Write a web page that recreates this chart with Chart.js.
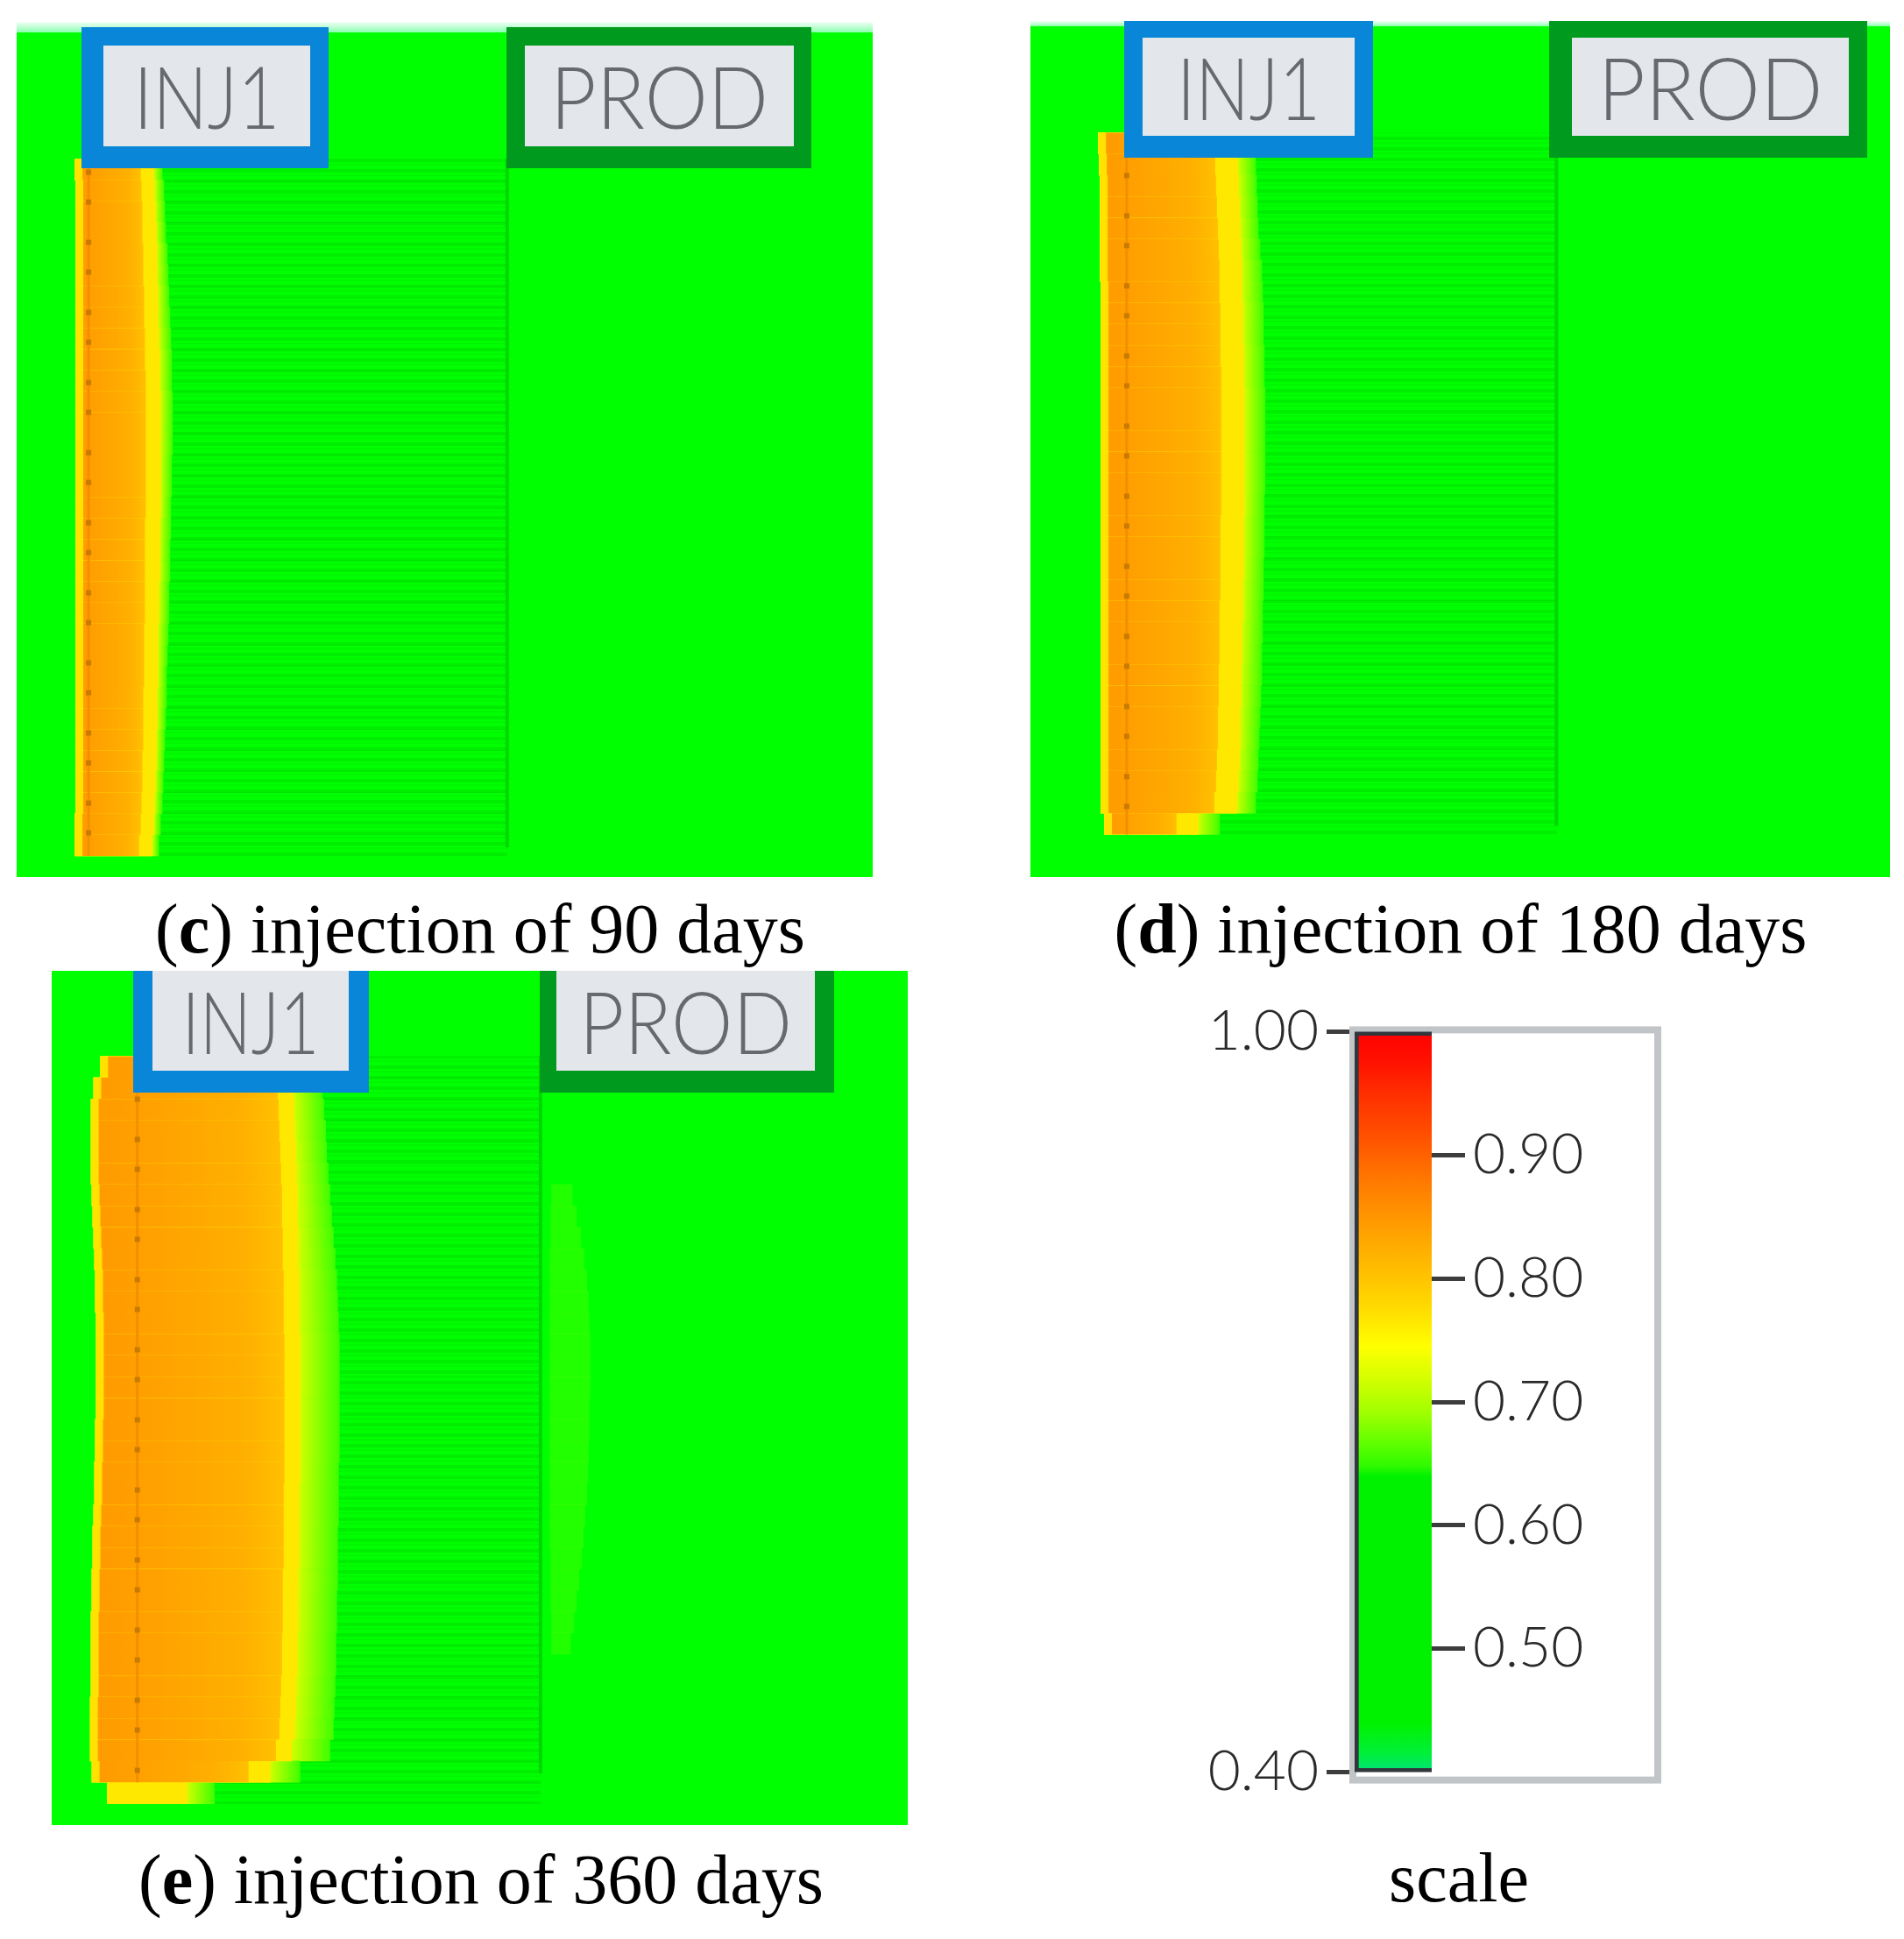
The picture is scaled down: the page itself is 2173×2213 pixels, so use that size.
<!DOCTYPE html>
<html>
<head>
<meta charset="utf-8">
<script src="https://cdn.jsdelivr.net/npm/chart.js@4.4.1/dist/chart.umd.min.js"></script>
<style>
  html, body { margin: 0; padding: 0; background: #fff; }
  body { width: 2173px; height: 2213px; position: relative; overflow: hidden; }
  canvas { position: absolute; }
  .cap {
    position: absolute; width: 1000px; text-align: center; white-space: nowrap;
    font-family: "Liberation Serif", "Times New Roman", serif; font-size: 80px; line-height: 80px; color: #000;
  }
</style>
</head>
<body>
<canvas id="pc" width="977" height="976" style="left:19px;top:25px"></canvas>
<canvas id="pd" width="981" height="977" style="left:1176px;top:24px"></canvas>
<canvas id="pe" width="977" height="975" style="left:59px;top:1108px"></canvas>
<canvas id="scale" width="540" height="940" style="left:1360px;top:1130px"></canvas>

<div class="cap" style="left:48px;top:1020px">(<b>c</b>) injection of 90 days</div>
<div class="cap" style="left:1167px;top:1020px">(<b>d</b>) injection of 180 days</div>
<div class="cap" style="left:49px;top:2105px">(<b>e</b>) injection of 360 days</div>
<div class="cap" style="left:1165px;top:2103px">scale</div>

<script>
// grid layers, top to bottom
const layerCount = 40;
const layers = Array.from({ length: layerCount }, (_, k) => k + 1);

// well positions, % of section width  (c, d, e)
const injX = [8.4, 11.2, 10.0];
const prodX = [57.3, 61.2, 57.1];

// (c) 90 days - plume from layer index 6
const cStart = 6;
const cLeft = [6.8,6.9,6.9,6.9,6.9,6.9,6.9,6.9,6.9, 6.9,6.9,6.9,6.9,6.9,6.9,6.9,6.9,6.9,6.9,6.9,6.9,6.9,6.9, 6.9,6.9,6.9,6.9,6.9,6.9,6.9,6.9, 6.8,6.8];
const cCore = [14.5,14.6,14.7,14.7,14.8,14.8,14.9,14.9,15.0, 15.0,15.1,15.1,15.1,15.1,15.1,15.1,15.1,15.0,15.0,15.0,15.0,15.0,14.9, 14.9,14.9,14.8,14.8,14.8,14.7,14.7,14.6, 14.5,14.3];
const cYellow = [16.0,16.1,16.2,16.3,16.4,16.4,16.5,16.5,16.6, 16.7,16.7,16.8,16.8,16.8,16.8,16.8,16.8,16.7,16.7,16.7,16.6,16.6,16.5, 16.5,16.5,16.4,16.4,16.3,16.3,16.2,16.1, 16.0,15.8];
const cFringe = [17.0,17.2,17.3,17.4,17.6,17.7,17.8,17.9,18.0, 18.1,18.1,18.2,18.2,18.2,18.1,18.1,18.0,18.0,17.9,17.9,17.8,17.8,17.7, 17.6,17.5,17.5,17.4,17.3,17.2,17.1,17.0, 16.8,16.6];

// (d) 180 days - plume from layer index 5
const dStart = 5;
const dLeft = [7.9,8.0, 8.1,8.1,8.1,8.1,8.1, 8.2,8.2,8.2,8.2,8.2,8.2,8.2,8.2,8.2,8.2,8.2,8.2,8.2,8.2,8.2,8.2,8.2,8.2, 8.2,8.2,8.2,8.2,8.2,8.2,8.2, 8.6];
const dCore = [21.4,21.5,21.6,21.7,21.8,21.9,22.0, 22.0,22.1,22.1,22.1,22.2,22.2,22.2,22.2,22.2,22.2,22.2,22.1,22.1,22.1,22.1,22.0,22.0,22.0, 21.9,21.9,21.8,21.8,21.7,21.6,21.4, 17.0];
const dYellow = [24.0,24.1,24.2,24.3,24.4,24.5,24.6, 24.6,24.7,24.7,24.8,24.8,24.9,24.9,24.9,24.9,24.9,24.9,24.8,24.8,24.8,24.7,24.7,24.6,24.6, 24.5,24.5,24.4,24.4,24.3,24.2,24.0, 19.5];
const dFringe = [26.0,26.2,26.3,26.4,26.5,26.7,26.9, 27.0,27.1,27.1,27.2,27.2,27.3,27.3,27.3,27.3,27.3,27.2,27.2,27.2,27.1,27.1,27.0,27.0,26.9, 26.9,26.8,26.7,26.6,26.5,26.4,26.2, 22.0];

// (e) 360 days - plume from layer index 4
const eStart = 4;
const eLeft = [5.7, 4.9, 4.6,4.6,4.6,4.6,4.7,4.8,4.9,5.0,5.1,5.1,5.2,5.2,5.2,5.2,5.2,5.1,5.1,5.0,5.0,4.9,4.8,4.8,4.7,4.7,4.6,4.6,4.6,4.6,4.5,4.5,4.5, 4.7, 6.5];
const eCore = [26.2, 26.4,26.5,26.6,26.7,26.8,26.9,26.9,27.0, 27.0,27.1,27.1,27.1,27.2,27.2,27.2,27.2,27.2,27.2,27.2,27.1,27.1,27.1,27.1,27.0,27.0,27.0,26.9,26.9,26.8,26.7,26.6, 26.2, 23.0, null];
const eYellow = [28.0, 28.2,28.3,28.4,28.5,28.6,28.7,28.7,28.8, 28.8,28.9,28.9,28.9,29.0,29.0,29.0,29.0,29.0,29.0,29.0,28.9,28.9,28.9,28.9,28.8,28.8,28.8,28.7,28.7,28.6,28.5,28.4, 28.0, 25.5, 15.8];
const eFringe = [31.3, 31.6,31.8,32.0,32.1,32.3,32.5,32.7,32.9, 33.1,33.3,33.4,33.5,33.6,33.6,33.6,33.6,33.6,33.6,33.5,33.5,33.5,33.4,33.4,33.4,33.3,33.3,33.2,33.2,33.1,33.0,32.9, 32.5, 29.0, 19.0];
// faint front reaching the producer in (e)
const eBreakStart = 10;
const eBreakLeft = [58.4,58.3,58.3,58.2,58.2,58.2,58.2,58.2,58.2,58.2,58.2,58.2,58.2,58.2,58.2,58.2,58.2,58.3,58.3,58.3,58.4,58.4];
const eBreakRight = [60.8,61.3,61.8,62.2,62.5,62.7,62.8,62.9,62.9,62.9,62.8,62.8,62.7,62.6,62.5,62.3,62.1,61.9,61.6,61.3,61.0,60.6];

// colour scale
const scaleRange = [0.4, 1.0];
const scaleTicksLeft = [0.4, 1.0];
const scaleTicksRight = [0.5, 0.6, 0.7, 0.8, 0.9];
const scaleStops = [
  [0.40, '#00e27a'], [0.415, '#00f03a'], [0.44, '#00f200'], [0.640, '#00f200'], [0.648, '#30fa00'],
  [0.665, '#5cff00'], [0.69, '#9dff00'], [0.72, '#d6ff00'], [0.745, '#ffff00'], [0.775, '#ffdc00'],
  [0.81, '#ffbb00'], [0.845, '#ff9b00'], [0.88, '#ff7800'], [0.91, '#ff5600'], [0.945, '#ff3300'],
  [0.975, '#ff1200'], [1.0, '#ff0000']
];

const labelFont = 'Lato, "Open Sans", "DejaVu Sans", sans-serif';

function rows(start, a, b) {
  const out = new Array(layerCount).fill(null);
  a.forEach((v, i) => {
    if (v != null && b[i] != null) out[start + i] = [v, b[i]];
  });
  return out;
}

function stripePattern() {
  const c = document.createElement('canvas');
  c.width = 4; c.height = 12;
  const g = c.getContext('2d');
  g.fillStyle = 'rgba(0,150,0,0.16)';
  g.fillRect(0, 0, 4, 4);
  g.fillStyle = 'rgba(0,150,0,0.08)';
  g.fillRect(0, 6, 4, 2);
  return g.createPattern(c, 'repeat');
}
const stripes = stripePattern();

function drawBox(ctx, b) {
  const [ox0, oy0, ox1, oy1] = b.outer;
  const [ix0, iy0, ix1, iy1] = b.inner;
  ctx.fillStyle = b.color;
  ctx.fillRect(ox0, oy0, ox1 - ox0, oy1 - oy0);
  ctx.fillStyle = '#e3e6ea';
  ctx.fillRect(ix0, iy0, ix1 - ix0, iy1 - iy0);
  ctx.save();
  ctx.font = '300 98px ' + labelFont;
  ctx.textAlign = 'center';
  ctx.textBaseline = 'alphabetic';
  const w = ctx.measureText(b.label).width;
  ctx.translate((ix0 + ix1) / 2, b.capY + 35);
  ctx.scale(b.textW / w, 1);
  ctx.fillStyle = '#66696e';
  ctx.fillText(b.label, 0, 0);
  ctx.restore();
}

function makePanel(id, p) {
  const core = rows(p.start, p.L, p.R);
  const yellow = rows(p.start, p.L, p.Y);
  const fringe = rows(p.start, p.L, p.F);
  const swept = rows(p.start, p.F, p.F.map(() => p.prod));

  const datasets = [
    {
      label: 'core', data: core,
      backgroundColor: (c) => {
        const ch = c.chart;
        if (!c.raw || !ch.chartArea) return '#ffab00';
        const xs = ch.scales.x;
        const g = ch.ctx.createLinearGradient(xs.getPixelForValue(c.raw[0]), 0, xs.getPixelForValue(c.raw[1]), 0);
        g.addColorStop(0, '#ff9a00');
        g.addColorStop(0.35, '#ffa200');
        g.addColorStop(0.8, '#ffb000');
        g.addColorStop(1, '#ffc000');
        return g;
      },
      borderColor: '#ffe200',
      borderWidth: { left: 9, right: 0, top: 0, bottom: 0 },
      borderSkipped: false
    },
    { label: 'yellow', data: yellow, backgroundColor: '#ffe800' },
    {
      label: 'fringe', data: fringe,
      backgroundColor: (c) => {
        const ch = c.chart;
        if (!c.raw || !ch.chartArea) return '#a8ff00';
        const xs = ch.scales.x;
        const x0 = xs.getPixelForValue(c.raw[0]), x1 = xs.getPixelForValue(c.raw[1]);
        const yv = p.Y[c.dataIndex - p.start];
        let t = (xs.getPixelForValue(yv) - x0) / (x1 - x0);
        t = Math.max(0, Math.min(0.99, t));
        const g = ch.ctx.createLinearGradient(x0, 0, x1, 0);
        g.addColorStop(0, '#e0ff00');
        g.addColorStop(t, '#d0ff00');
        g.addColorStop(1, '#40ff00');
        return g;
      }
    },
    { label: 'swept', data: swept, backgroundColor: stripes }
  ];
  if (p.breakL) {
    datasets.push({ label: 'front', data: rows(p.breakStart, p.breakL, p.breakR), backgroundColor: 'rgba(110,255,0,0.3)' });
  }

  const plugin = {
    id: 'field' + id,
    beforeDatasetsDraw(chart) {
      const { ctx, chartArea: a } = chart;
      ctx.save();
      if (a.top > 0) {
        const g = ctx.createLinearGradient(0, 0, 0, a.top);
        g.addColorStop(0, '#f2fff6');
        g.addColorStop(1, '#8cffb0');
        ctx.fillStyle = g;
        ctx.fillRect(a.left, 0, a.width, a.top);
      }
      ctx.fillStyle = '#00ff00';
      ctx.fillRect(a.left, a.top, a.width, a.height);
      ctx.restore();
    },
    afterDatasetsDraw(chart) {
      const { ctx } = chart;
      const xs = chart.scales.x, ys = chart.scales.y;
      const half = (chart.chartArea.height / layerCount) / 2;
      const last = p.start + p.R.filter(v => v != null).length - 1;
      const yTop = ys.getPixelForValue(p.start) - half;
      const yBot = ys.getPixelForValue(last) + half;
      ctx.save();
      // producer
      const px = xs.getPixelForValue(p.prod);
      ctx.strokeStyle = '#00d600';
      ctx.lineWidth = 4;
      ctx.beginPath(); ctx.moveTo(px, yTop); ctx.lineTo(px, yBot - 10); ctx.stroke();
      // injector with perforations
      const ix = xs.getPixelForValue(p.inj);
      ctx.strokeStyle = '#f48e00';
      ctx.lineWidth = 3;
      ctx.beginPath(); ctx.moveTo(ix, yTop); ctx.lineTo(ix, yBot); ctx.stroke();
      ctx.fillStyle = '#c97a00';
      for (let y = yTop + 12; y < yBot - 4; y += 80) {
        ctx.fillRect(ix - 3, y, 6, 6);
        if (y + 34 < yBot - 4) ctx.fillRect(ix - 3, y + 34, 6, 6);
      }
      p.boxes.forEach(b => drawBox(ctx, b));
      ctx.restore();
    }
  };

  return new Chart(document.getElementById(id), {
    type: 'bar',
    data: { labels: layers, datasets },
    options: {
      responsive: false,
      animation: false,
      indexAxis: 'y',
      layout: { padding: { top: p.band, left: 0, right: 0, bottom: 0 } },
      datasets: { bar: { grouped: false, categoryPercentage: 1, barPercentage: 1 } },
      plugins: { legend: { display: false }, tooltip: { enabled: false } },
      scales: {
        x: { type: 'linear', min: 0, max: 100, display: false },
        y: { type: 'category', display: false, offset: true }
      }
    },
    plugins: [plugin]
  });
}

makePanel('pc', {
  band: 12, start: cStart, L: cLeft, R: cCore, Y: cYellow, F: cFringe, inj: injX[0], prod: prodX[0],
  boxes: [
    { label: 'INJ1', outer: [74, 6, 356, 167], inner: [99, 27, 335, 142], color: '#0a86d8', textW: 167, capY: 87 },
    { label: 'PROD', outer: [559, 6, 907, 167], inner: [580, 27, 887, 142], color: '#009a1e', textW: 249, capY: 87 }
  ]
});

makePanel('pd', {
  band: 6, start: dStart, L: dLeft, R: dCore, Y: dYellow, F: dFringe, inj: injX[1], prod: prodX[1],
  boxes: [
    { label: 'INJ1', outer: [107, 0, 391, 156], inner: [128, 19, 370, 131], color: '#0a86d8', textW: 164, capY: 78 },
    { label: 'PROD', outer: [592, 0, 955, 156], inner: [618, 19, 934, 131], color: '#009a1e', textW: 257, capY: 78 }
  ]
});

makePanel('pe', {
  band: 0, start: eStart, L: eLeft, R: eCore, Y: eYellow, F: eFringe, inj: injX[2], prod: prodX[2],
  breakStart: eBreakStart, breakL: eBreakLeft, breakR: eBreakRight,
  boxes: [
    { label: 'INJ1', outer: [93, -25, 362, 139], inner: [115, -5, 339, 114], color: '#0a86d8', textW: 157, capY: 60 },
    { label: 'PROD', outer: [557, -25, 893, 139], inner: [576, -5, 871, 114], color: '#009a1e', textW: 243, capY: 60 }
  ]
});

// colour bar
const framePlugin = {
  id: 'frame',
  beforeDatasetsDraw(chart) {
    const { ctx, chartArea: a } = chart;
    ctx.save();
    ctx.strokeStyle = '#c2c5c8';
    ctx.lineWidth = 8;
    ctx.strokeRect(a.left - 2, a.top - 2, 348, a.height + 11);
    ctx.restore();
  }
};

function tickAxis(position, ticks, width, len) {
  return {
    type: 'linear', position, min: scaleRange[0], max: scaleRange[1],
    afterBuildTicks: (s) => { s.ticks = ticks.map(v => ({ value: v })); },
    afterFit: (s) => { s.width = width; },
    border: { display: false },
    grid: { drawOnChartArea: false, drawTicks: true, tickLength: len, tickWidth: 5, tickColor: '#3d3d3d', color: '#3d3d3d' },
    ticks: {
      padding: 9, color: '#2a2a2a',
      font: { family: labelFont, size: 64, weight: '300' },
      callback: (v) => Number(v).toFixed(2)
    }
  };
}

new Chart(document.getElementById('scale'), {
  type: 'bar',
  data: {
    labels: ['scale'],
    datasets: [{
      data: [scaleRange],
      yAxisID: 'y',
      backgroundColor: (c) => {
        const ch = c.chart;
        if (!ch.chartArea) return '#00ff00';
        const ys = ch.scales.y;
        const y0 = ys.getPixelForValue(scaleRange[0]), y1 = ys.getPixelForValue(scaleRange[1]);
        const g = ch.ctx.createLinearGradient(0, y0, 0, y1);
        scaleStops.forEach(([v, col]) => g.addColorStop((v - scaleRange[0]) / (scaleRange[1] - scaleRange[0]), col));
        return g;
      },
      borderColor: '#30363b',
      borderWidth: { left: 5, top: 5, bottom: 5, right: 0 },
      borderSkipped: false,
      categoryPercentage: 1,
      barPercentage: 1
    }]
  },
  options: {
    responsive: false,
    animation: false,
    layout: { padding: { top: 44, bottom: 34, left: 0, right: 0 } },
    plugins: { legend: { display: false }, tooltip: { enabled: false } },
    scales: {
      x: { type: 'category', display: false },
      yL: tickAxis('left', scaleTicksLeft, 186, 32),
      y: tickAxis('right', scaleTicksRight, 266, 38)
    }
  },
  plugins: [framePlugin]
});
</script>
</body>
</html>
